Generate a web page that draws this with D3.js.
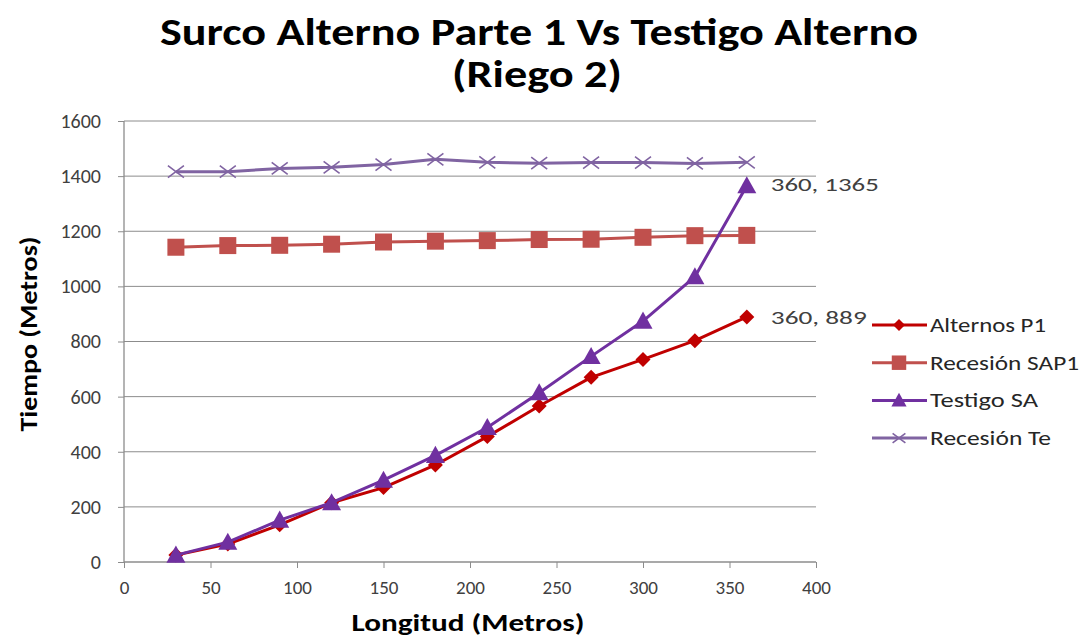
<!DOCTYPE html>
<html>
<head>
<meta charset="utf-8">
<script src="https://cdn.jsdelivr.net/npm/d3@7"></script>
<style>
  html, body { margin: 0; padding: 0; background: #fff; }
  svg { display: block; font-family: Carlito, Lato, "Open Sans", sans-serif; }
</style>
</head>
<body>
<svg id="chart" width="1085" height="637"></svg>
<script>
// Longitud (m) at each station along the furrow
const longitud = [30, 60, 90, 120, 150, 180, 210, 240, 270, 300, 330, 360];

// Tiempo values per series
const alternosP1   = [25, 65, 135, 215, 270, 352, 455, 566, 670, 735, 803, 889];
const recesionSAP1 = [1142, 1148, 1149, 1153, 1161, 1164, 1166, 1170, 1171, 1178, 1184, 1185];
const testigoSA    = [25, 72, 152, 215, 297, 387, 488, 614, 746, 874, 1035, 1365];
const recesionTe   = [1416, 1416, 1428, 1432, 1442, 1461, 1450, 1447, 1449, 1449, 1446, 1450];

const seriesNames = ["Alternos P1", "Recesión SAP1", "Testigo SA", "Recesión Te"];
const xTicks = [0, 50, 100, 150, 200, 250, 300, 350, 400];
const yTicks = [0, 200, 400, 600, 800, 1000, 1200, 1400, 1600];

const series = [
  { name: seriesNames[0], values: alternosP1,   color: "#C00000", symbol: "diamond",  width: 116 },
  { name: seriesNames[1], values: recesionSAP1, color: "#C0504D", symbol: "square",   width: 149 },
  { name: seriesNames[2], values: testigoSA,    color: "#7030A0", symbol: "triangle", width: 108 },
  { name: seriesNames[3], values: recesionTe,   color: "#8064A2", symbol: "cross",    width: 121 }
];

const svg = d3.select("#chart");
const plot = { left: 124, right: 816, top: 121, bottom: 562 };

const x = d3.scaleLinear().domain([0, 400]).range([plot.left, plot.right]);
const y = d3.scaleLinear().domain([0, 1600]).range([plot.bottom, plot.top]);

// Title
const title = svg.append("g").attr("font-weight", "bold").attr("fill", "#000").attr("text-anchor", "middle");
title.append("text").attr("x", 539).attr("y", 45).attr("font-size", 38)
  .attr("textLength", 758).attr("lengthAdjust", "spacingAndGlyphs")
  .text("Surco Alterno Parte 1 Vs Testigo Alterno");
title.append("text").attr("x", 537).attr("y", 87).attr("font-size", 38)
  .attr("textLength", 170).attr("lengthAdjust", "spacingAndGlyphs")
  .text("(Riego 2)");

// Horizontal gridlines
svg.append("g")
  .selectAll("line")
  .data(yTicks.filter(d => d > 0))
  .join("line")
  .attr("x1", plot.left).attr("x2", plot.right)
  .attr("y1", d => y(d)).attr("y2", d => y(d))
  .attr("stroke", "#8c8c8c").attr("stroke-width", 1);

// Axes
const yAxis = svg.append("g")
  .attr("transform", `translate(${plot.left},0)`)
  .call(d3.axisLeft(y).tickValues(yTicks).tickSize(6).tickPadding(17).tickFormat(d3.format("d")));
const xAxis = svg.append("g")
  .attr("transform", `translate(0,${plot.bottom})`)
  .call(d3.axisBottom(x).tickValues(xTicks).tickSize(6).tickPadding(13).tickFormat(d3.format("d")));

[yAxis, xAxis].forEach(ax => {
  ax.select(".domain").attr("stroke", "#8c8c8c").attr("stroke-width", 1.3);
  ax.selectAll(".tick line").attr("stroke", "#8c8c8c");
  ax.selectAll(".tick text").attr("fill", "#404040").attr("font-family", "Carlito, Lato, sans-serif");
});
yAxis.selectAll(".tick text").attr("font-size", 20);
xAxis.selectAll(".tick text").attr("font-size", 19);
yAxis.select(".domain").attr("d", `M0,${plot.bottom}V${plot.top}`);
xAxis.select(".domain").attr("d", `M${plot.left},0H${plot.right}`);

// Axis titles
svg.append("text")
  .attr("transform", `translate(37,334) rotate(-90)`)
  .attr("text-anchor", "middle").attr("font-size", 24).attr("font-weight", "bold")
  .attr("textLength", 195).attr("lengthAdjust", "spacingAndGlyphs")
  .text("Tiempo (Metros)");
svg.append("text")
  .attr("x", 468).attr("y", 631)
  .attr("text-anchor", "middle").attr("font-size", 24).attr("font-weight", "bold")
  .attr("textLength", 233).attr("lengthAdjust", "spacingAndGlyphs")
  .text("Longitud (Metros)");

// Marker drawing helper
function drawMarker(g, type, color, cx, cy, scale = 1) {
  if (type === "diamond") {
    const s = 7.5 * scale;
    g.append("path").attr("d", `M${cx},${cy - s}L${cx + s},${cy}L${cx},${cy + s}L${cx - s},${cy}Z`).attr("fill", color);
  } else if (type === "square") {
    const s = 8.5 * scale;
    g.append("rect").attr("x", cx - s).attr("y", cy - s).attr("width", 2 * s).attr("height", 2 * s).attr("fill", color);
  } else if (type === "triangle") {
    const s = 9.5 * scale;
    g.append("path").attr("d", `M${cx},${cy - s}L${cx + s},${cy + s * 0.8}L${cx - s},${cy + s * 0.8}Z`).attr("fill", color);
  } else if (type === "cross") {
    const s = 8 * scale;
    g.append("path").attr("d", `M${cx - s},${cy - s * 0.75}L${cx + s},${cy + s * 0.75}M${cx - s},${cy + s * 0.75}L${cx + s},${cy - s * 0.75}`)
      .attr("stroke", color).attr("stroke-width", 1.6).attr("fill", "none");
  }
}

// Series lines and markers
const line = d3.line().x(d => x(d[0])).y(d => y(d[1]));
series.forEach(s => {
  const pts = longitud.map((l, i) => [l, s.values[i]]);
  const g = svg.append("g");
  g.append("path").datum(pts).attr("d", line)
    .attr("fill", "none").attr("stroke", s.color).attr("stroke-width", 3).attr("stroke-linejoin", "round");
  pts.forEach(p => drawMarker(g, s.symbol, s.color, x(p[0]), y(p[1])));
});

// Data labels on last points
const lastIdx = longitud.length - 1;
[[alternosP1, 7, 96], [testigoSA, 5, 108]].forEach(([vals, dy, w]) => {
  svg.append("text")
    .attr("x", x(longitud[lastIdx]) + 24).attr("y", y(vals[lastIdx]) + dy)
    .attr("font-size", 19).attr("fill", "#404040")
    .attr("textLength", w).attr("lengthAdjust", "spacingAndGlyphs")
    .text(`${longitud[lastIdx]}, ${vals[lastIdx]}`);
});

// Legend
const legend = svg.append("g");
series.forEach((s, i) => {
  const yy = 325 + i * 37.7;
  legend.append("line").attr("x1", 872).attr("x2", 927).attr("y1", yy).attr("y2", yy)
    .attr("stroke", s.color).attr("stroke-width", 3);
  drawMarker(legend, s.symbol, s.color, 899, yy, s.symbol === "square" ? 0.85 : 0.8);
  legend.append("text").attr("x", 930).attr("y", yy + 7)
    .attr("font-size", 20).attr("fill", "#262626")
    .attr("textLength", s.width).attr("lengthAdjust", "spacingAndGlyphs")
    .text(s.name);
});
</script>
</body>
</html>
